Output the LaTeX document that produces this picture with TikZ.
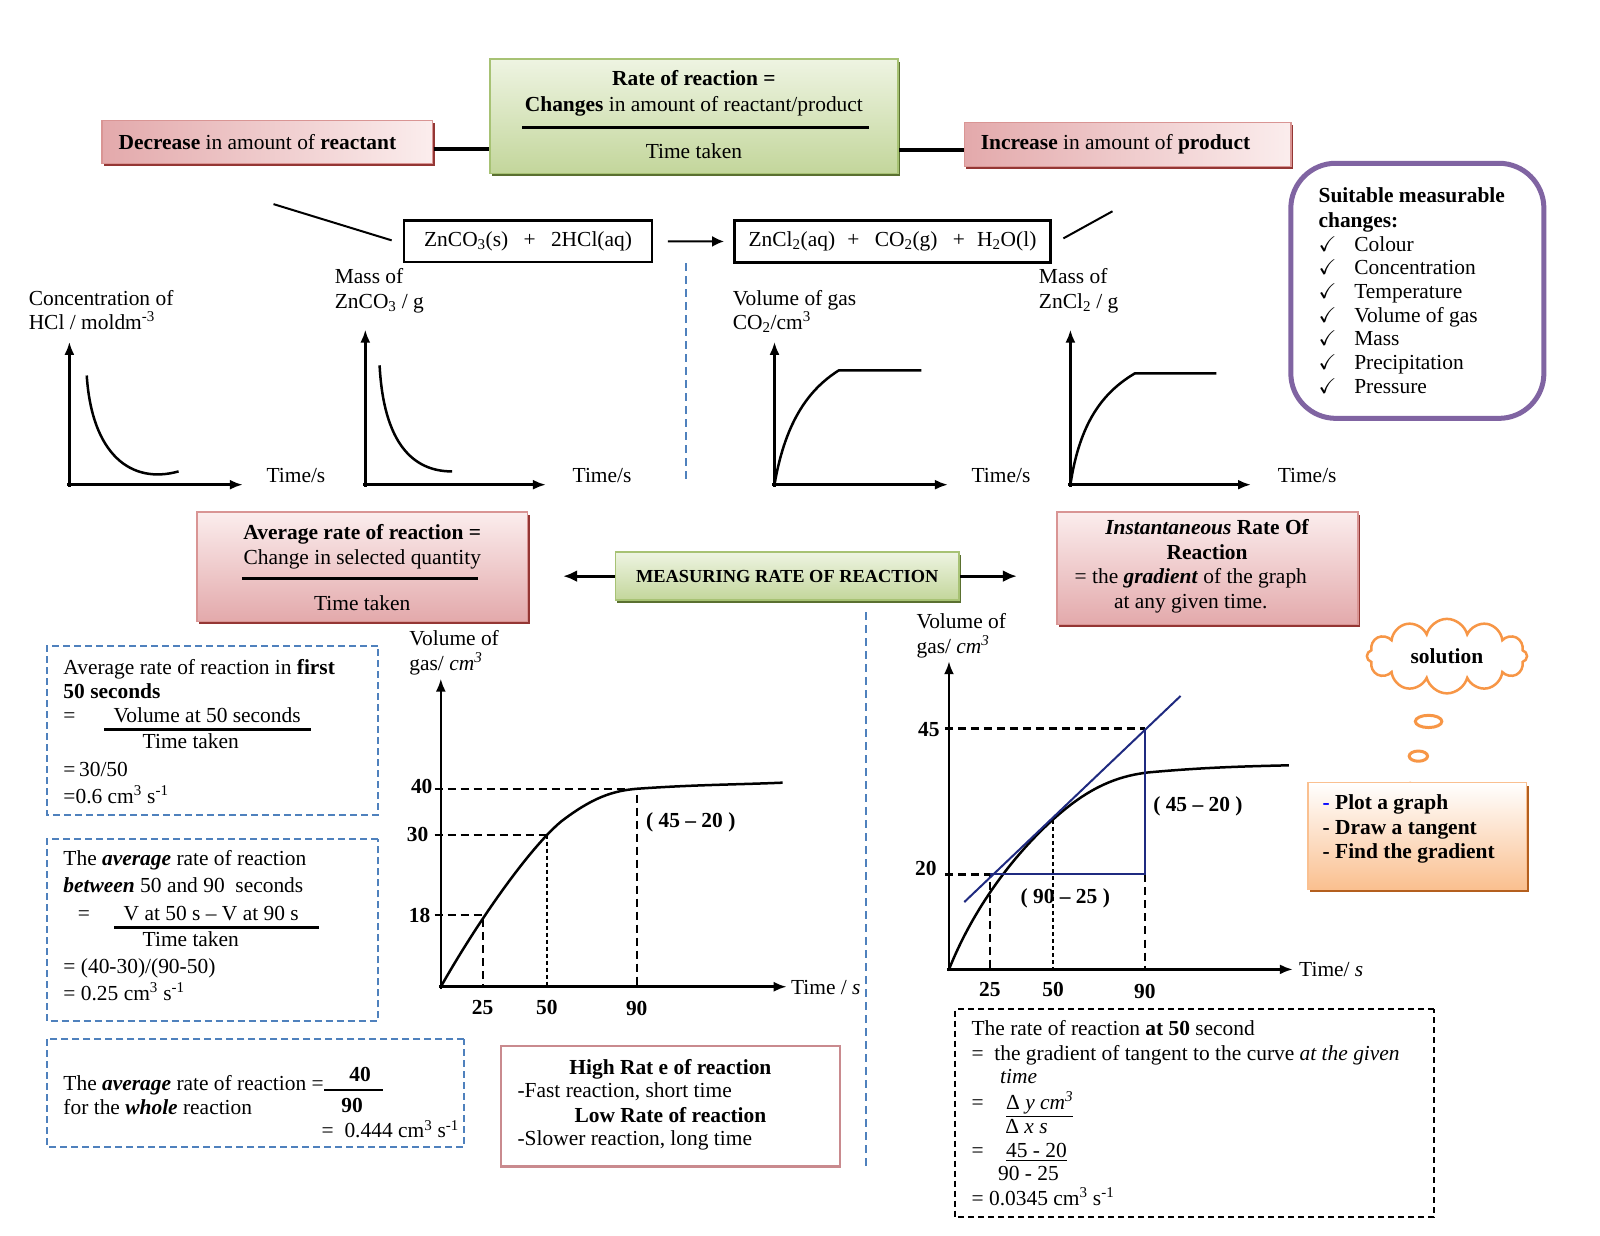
\documentclass[tikz,border=0pt]{standalone}
\usepackage{fontspec}
\setmainfont{Liberation Serif}
\usepackage{amssymb}
\usetikzlibrary{positioning, calc, shapes.symbols, arrows.meta, shadows}
\definecolor{rFill}{HTML}{E3A9AB}
\definecolor{rLight}{HTML}{FBEDED}
\definecolor{rEdge}{HTML}{D99594}
\definecolor{rShade}{HTML}{943634}
\definecolor{gFill}{HTML}{C3D69B}
\definecolor{gLight}{HTML}{EEF4E2}
\definecolor{gEdge}{HTML}{A7C274}
\definecolor{gShade}{HTML}{5A7030}
\definecolor{bDash}{HTML}{4F81BD}
\definecolor{pLine}{HTML}{8064A2}
\definecolor{oLine}{HTML}{F79646}
\definecolor{oFill}{HTML}{FAC090}
\definecolor{oShade}{HTML}{B45F1E}
\definecolor{tBlue}{HTML}{1F2A80}
\definecolor{hEdge}{HTML}{C98A8E}
\tikzset{
    RedBox/.style = {
        draw=rEdge, line width=1.5pt,
        top color=rLight, bottom color=rFill,
        drop shadow={shadow xshift=2pt, shadow yshift=-3pt, fill=rShade, opacity=1}
    },
    RedBar/.style = {
        draw=rEdge, line width=1.5pt,
        left color=rFill, right color=rLight,
        drop shadow={shadow xshift=2pt, shadow yshift=-3pt, fill=rShade, opacity=1}
    },
    GreenBox/.style = {
        draw=gEdge, line width=1.5pt,
        top color=gLight, bottom color=gFill,
        drop shadow={shadow xshift=2pt, shadow yshift=-3pt, fill=gShade, opacity=1}
    },
    EqBox/.style = {draw, line width=2.5pt, minimum height=41pt},
    DashBox/.style = {draw=bDash, line width=2pt, dash pattern=on 7pt off 4pt},
    Sep/.style = {bDash, line width=2pt, dash pattern=on 8pt off 5pt},
    Axis/.style = {line width=2.5pt, -{Latex[length=13pt, width=10pt]}},
    Curve/.style = {line width=2.5pt},
    Guide/.style = {line width=2.2pt, dash pattern=on 8pt off 5pt},
    FineGuide/.style = {line width=1.2pt, dash pattern=on 4pt off 3pt},
    Tan/.style = {tBlue, line width=2pt},
    Link/.style = {line width=4pt},
    Arrow/.style = {line width=3pt, -{Latex[length=14pt, width=12pt]}},
    Lbl/.style = {anchor=base west},
    Mid/.style = {anchor=base}
}

\begin{document}
\begin{tikzpicture}[x=1pt, y=-1pt, scale=1.0204, transform shape, inner sep=0pt, font=\fontsize{21}{24}\selectfont]
    \fill[white] (0,0) rectangle (1568,1211.25);
    \useasboundingbox (0,0) rectangle (1568,1211.25);

    % top row
    \node[GreenBox, minimum width=400pt, minimum height=112pt] (Rate) at (680,114) {};
    \node[Mid] (RateA) at (680,84) {\textbf{Rate of reaction =}};
    \node[Mid] (RateB) at (680,109) {\textbf{Changes} in amount of reactant/product};
    \draw[line width=2.5pt] (512,125) -- (852,125);
    \node[Mid] (RateC) at (680,155) {Time taken};
    \node[RedBar, minimum width=324pt, minimum height=42pt] (Dec) at (262,139) {};
    \node[anchor=west] (DecT) at (116,139) {\textbf{Decrease} in amount of \textbf{reactant}};
    \node[RedBar, minimum width=320pt, minimum height=43pt] (Inc) at (1105,141.5) {};
    \node[anchor=west] (IncT) at (961,141.5) {\textbf{Increase} in amount of \textbf{product}};
    \draw[Link] ($(Dec.east)+(0,7)$) -- ($(Dec.east -| Rate.west)+(0,7)$);
    \draw[Link] ($(Inc.west)+(0,5.5)$) -- ($(Inc.west -| Rate.east)+(0,5.5)$);

    % equation
    \node[EqBox, minimum width=243pt] (EqL) at (517.5,236.5) {ZnCO\textsubscript{3}(s)\hspace{15pt}+\hspace{15pt}2HCl(aq)};
    \node[EqBox, minimum width=310pt, right=78pt of EqL] (EqR) {ZnCl\textsubscript{2}(aq)\hspace{12pt}+\hspace{15pt}CO\textsubscript{2}(g)\hspace{15pt}+\hspace{12pt}H\textsubscript{2}O(l)};
    \draw[line width=2pt, -{Latex[length=12pt, width=11pt]}] ($(EqL.east)+(14,0)$) -- ($(EqR.west)+(-9,0)$);
    \coordinate (ReacTip) at (268,200);
    \coordinate (ProdTip) at (1090,207);
    \draw[line width=2pt] (ReacTip) -- ($(EqL.west)+(-11,-1)$);
    \draw[line width=2pt] ($(EqR.east)+(11,-3)$) -- (ProdTip);
    \draw[Sep] (672,258) -- (672,472);

    % four small graphs
    \node[anchor=north west, align=left] (GraphA) at (28,284) {Concentration of\\HCl / moldm\textsuperscript{-3}};
    \draw[Axis] (68,477) -- (68,335);
    \draw[Axis] (66,475) -- (238,475);
    \draw[Curve] (85,368) .. controls (90,445) and (128,475) .. (175,462);
    \node[Lbl] (TimeA) at (261,473) {Time/s};

    \node[anchor=north west, align=left] (GraphB) at (328,263) {Mass of\\ZnCO\textsubscript{3} / g};
    \draw[Axis] (358,477) -- (358,323);
    \draw[Axis] (356,475) -- (535,475);
    \draw[Curve] (372,358) .. controls (376,435) and (405,462) .. (443,462);
    \node[Lbl] (TimeB) at (561,473) {Time/s};

    \node[anchor=north west, align=left] (GraphC) at (718,284) {Volume of gas\\CO\textsubscript{2}/cm\textsuperscript{3}};
    \draw[Axis] (759,477) -- (759,335);
    \draw[Axis] (757,475) -- (929,475);
    \draw[Curve] (759,475) .. controls (770,410) and (795,380) .. (822,363) -- (903,363);
    \node[Lbl] (TimeC) at (952,473) {Time/s};

    \node[anchor=north west, align=left] (GraphD) at (1018,263) {Mass of\\ZnCl\textsubscript{2} / g};
    \draw[Axis] (1049,477) -- (1049,323);
    \draw[Axis] (1047,475) -- (1226,475);
    \draw[Curve] (1049,475) .. controls (1058,415) and (1080,385) .. (1112,366) -- (1192,366);
    \node[Lbl] (TimeD) at (1252,473) {Time/s};

    % measurable changes
    \node[draw=pLine, line width=5pt, rounded corners=45pt, minimum width=248pt, minimum height=250pt] (Chg) at (1389,285) {};
    \node[anchor=north west, align=left] (ChgHead) at (1292,184) {\textbf{Suitable measurable}\\\textbf{changes:}};
    \foreach \what [count=\i from 0] in {Colour, Concentration, Temperature, Volume of gas, Mass, Precipitation, Pressure}
        \node[Lbl] (Chg\i) at (1292, {246+23.2*\i}) {\makebox[35pt][l]{$\checkmark$}\what};

    % middle row
    \node[RedBox, minimum width=324pt, minimum height=107pt] (Avg) at (355,555.5) {};
    \node[Mid] (AvgA) at (355,529) {\textbf{Average rate of reaction =}};
    \node[Mid] (AvgB) at (355,553) {Change in selected quantity};
    \draw[line width=2.5pt] (237,567) -- (468,567);
    \node[Mid] (AvgC) at (355,598) {Time taken};
    \node[GreenBox, minimum width=337pt, minimum height=47pt, font=\fontsize{18}{21}\selectfont\bfseries] (Meas) at (771.5,564.5) {MEASURING RATE OF REACTION};
    \node[RedBox, minimum width=295pt, minimum height=110pt] (Inst) at (1183.5,557) {};
    \node[align=center] (InstT) at (1183,555) {\textbf{\textit{Instantaneous} Rate Of}\\\textbf{Reaction}\\= the \textbf{\textit{gradient}} of the graph\kern32pt\\at any given time.\kern32pt};
    \draw[Arrow] (Meas.west) -- ($(Meas.west -| Avg.east)+(34,0)$);
    \draw[Arrow] (Meas.east) -- ($(Meas.east -| Inst.west)+(-39,0)$);
    \draw[Sep] (849,600) -- (849,1145);

    % average rate boxes
    \node[DashBox, minimum width=324pt, minimum height=166pt] (First) at (208,716) {};
    \node[Lbl] (FirstA) at (62,661) {Average rate of reaction in \textbf{first}};
    \node[Lbl] (FirstB) at (62,685) {\textbf{50 seconds}};
    \node[Lbl] (FirstC) at (62,708) {=};
    \node[Mid] (FirstD) at (203,708) {Volume at 50 seconds};
    \draw[line width=2.5pt] (102,715) -- (305,715);
    \node[Mid] (FirstE) at (187,734) {Time taken};
    \node[Lbl] (FirstF) at (62,761) {=\,30/50};
    \node[Lbl] (FirstG) at (62,787) {=0.6 cm\textsuperscript{3} s\textsuperscript{-1}};

    \node[DashBox, minimum width=324pt, minimum height=179pt] (Betw) at (208,911.5) {};
    \node[Lbl] (BetwA) at (62,848) {The \textbf{\textit{average}} rate of reaction};
    \node[Lbl] (BetwB) at (62,875) {\textbf{\textit{between}} 50 and 90\ \ seconds};
    \node[Lbl] (BetwC) at (76,902) {=};
    \node[Mid] (BetwD) at (207,902) {V at 50 s -- V at 90 s};
    \draw[line width=2.5pt] (112,909) -- (313,909);
    \node[Mid] (BetwE) at (187,928) {Time taken};
    \node[Lbl] (BetwF) at (62,954) {= (40-30)/(90-50)};
    \node[Lbl] (BetwG) at (62,980) {= 0.25 cm\textsuperscript{3} s\textsuperscript{-1}};

    \node[DashBox, minimum width=409pt, minimum height=106pt] (Whole) at (250.5,1071) {};
    \node[Lbl] (WholeA) at (62,1069) {The \textbf{\textit{average}} rate of reaction =};
    \node[Lbl] (WholeB) at (62,1092) {for the \textbf{\textit{whole}} reaction};
    \node[Mid] (WholeC) at (353,1060) {\textbf{40}};
    \draw[line width=2.5pt] (318,1068) -- (375,1068);
    \node[Mid] (WholeD) at (345,1090) {\textbf{90}};
    \node[anchor=base east] (WholeE) at (450,1115) {=\ \ 0.444 cm\textsuperscript{3} s\textsuperscript{-1}};

    \node[draw=hEdge, line width=2.5pt, minimum width=332pt, minimum height=118pt] (Speed) at (657,1084) {};
    \node[Mid] (SpeedA) at (657,1053) {\textbf{High Rat e of reaction}};
    \node[Lbl] (SpeedB) at (507,1076) {-Fast reaction, short time};
    \node[Mid] (SpeedC) at (657,1100) {\textbf{Low Rate of reaction}};
    \node[Lbl] (SpeedD) at (507,1123) {-Slower reaction, long time};

    % average rate graph
    \node[anchor=north west, align=left] (VolA) at (401,618) {Volume of\\gas/ \textit{cm\textsuperscript{3}}};
    \draw[Guide] (426,773) -- (624,773) -- (624,967);
    \draw[Guide] (426,818) -- (536,818);
    \draw[FineGuide] (536,818) -- (536,967);
    \draw[Guide] (426,897) -- (473,897) -- (473,967);
    \draw[Axis] (432,969) -- (432,665);
    \draw[Axis] (430,967) -- (771,967);
    \draw[Curve] (432,967) .. controls (470,900) and (520,830) .. (550,805) .. controls (580,782) and (600,775) .. (624,773) .. controls (680,769) and (720,769) .. (767,767);
    \node[anchor=east] (YA40) at (424,771) {\textbf{40}};
    \node[anchor=east] (YA30) at (420,818) {\textbf{30}};
    \node[anchor=east] (YA18) at (422,897) {\textbf{18}};
    \node[Mid] (XA25) at (473,994) {\textbf{25}};
    \node[Mid] (XA50) at (536,994) {\textbf{50}};
    \node[Mid] (XA90) at (624,995) {\textbf{90}};
    \node[Lbl] (DiffA) at (633,811) {\textbf{( 45 -- 20 )}};
    \node[Lbl] (TimeE) at (775,975) {Time / \textit{s}};

    % instantaneous rate graph
    \node[anchor=north west, align=left] (VolB) at (898,601) {Volume of\\gas/ \textit{cm\textsuperscript{3}}};
    \draw[Guide] (926,714) -- (1122,714);
    \draw[Guide] (926,857) -- (970,857) -- (970,950);
    \draw[Guide] (1122,857) -- (1122,950);
    \draw[FineGuide] (1032,804) -- (1032,950);
    \draw[Axis] (930,952) -- (930,648);
    \draw[Axis] (928,950) -- (1267,950);
    \draw[Curve] (930,950) .. controls (960,875) and (1010,820) .. (1045,792) .. controls (1075,768) and (1100,760) .. (1125,757) .. controls (1180,752) and (1220,751) .. (1263,750);
    \draw[Tan] (945,884) -- (1157,682);
    \draw[Tan] (970,857) -- (1122,857) -- (1122,714);
    \node[anchor=east] (YB45) at (921,715) {\textbf{45}};
    \node[anchor=east] (YB20) at (918,851) {\textbf{20}};
    \node[Mid] (XB25) at (970,977) {\textbf{25}};
    \node[Mid] (XB50) at (1032,977) {\textbf{50}};
    \node[Mid] (XB90) at (1122,979) {\textbf{90}};
    \node[Lbl] (DiffB) at (1130,795) {\textbf{( 45 -- 20 )}};
    \node[Lbl] (DiffC) at (1000,885) {\textbf{( 90 -- 25 )}};
    \node[Lbl] (TimeF) at (1273,957) {Time/ \textit{s}};

    % solution cloud
    \node[cloud, cloud puffs=12, aspect=2.3, draw=oLine, line width=2.5pt, minimum width=157pt, minimum height=73pt] (Sol) at (1418,643) {\textbf{solution}};
    \draw[oLine, line width=3pt] (1400,707) ellipse [x radius=13pt, y radius=6pt];
    \draw[oLine, line width=3pt] (1390,741) ellipse [x radius=9pt, y radius=5pt];
    \fill[oLine] (1382,771) circle [radius=5pt];
    \node[draw=oFill, line width=1.5pt, top color=white, bottom color=oFill,
          drop shadow={shadow xshift=2pt, shadow yshift=-3pt, fill=oShade, opacity=1},
          minimum width=214pt, minimum height=104pt] (Steps) at (1389,819) {};
    \node[anchor=north west, align=left] (StepsT) at (1296,779) {\textbf{\textcolor{blue}{-} Plot a graph}\\\textbf{- Draw a tangent}\\\textbf{- Find the gradient}};

    % gradient working
    \node[draw, line width=2pt, dash pattern=on 6pt off 4pt, minimum width=469pt, minimum height=204pt] (Grad) at (1170.5,1091) {};
    \node[Lbl] (GradA) at (952,1015) {The rate of reaction \textbf{at 50} second};
    \node[Lbl] (GradB) at (952,1039) {=\ \ the gradient of tangent to the curve \textit{at the given}};
    \node[Lbl] (GradC) at (980,1062) {\textit{time}};
    \node[Lbl] (GradD) at (952,1087) {=\hspace{22pt}\underline{Δ \textit{y cm\textsuperscript{3}}}};
    \node[Lbl] (GradE) at (985,1111) {Δ \textit{x s}};
    \node[Lbl] (GradF) at (952,1134) {=\hspace{22pt}\underline{45 - 20}};
    \node[Lbl] (GradG) at (978,1157) {90 - 25};
    \node[Lbl] (GradH) at (952,1181) {= 0.0345 cm\textsuperscript{3} s\textsuperscript{-1}};
\end{tikzpicture}
\end{document}
